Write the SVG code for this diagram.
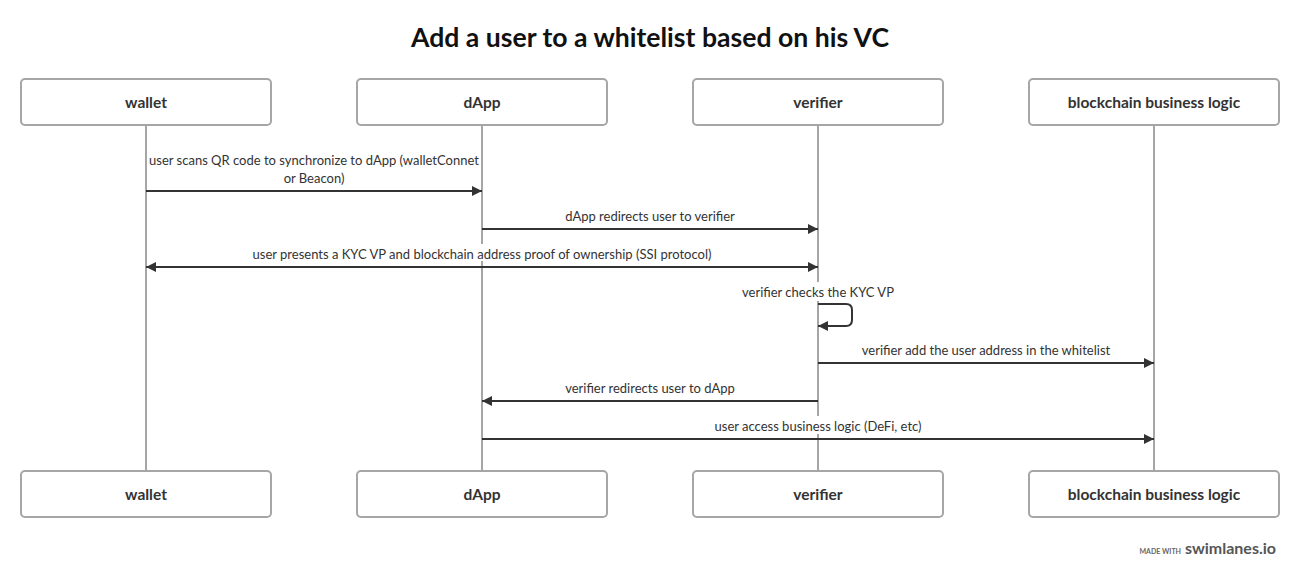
<svg xmlns="http://www.w3.org/2000/svg" width="1300" height="578" viewBox="0 0 1300 578">
<defs>
<style>
.bg{fill:#ffffff}
.box{fill:#ffffff;stroke:#a6a6a6;stroke-width:2}
.life{stroke:#a6a6a6;stroke-width:2}
.msg{stroke:#333333;stroke-width:2;fill:none}
.lbl{font-family:Lato,"Open Sans",sans-serif;font-size:13px;fill:#333333;text-anchor:middle}
.name{font-family:Lato,"Open Sans",sans-serif;font-size:15.5px;font-weight:bold;fill:#333333;text-anchor:middle}
.title{font-family:Lato,"Open Sans",sans-serif;font-size:26.6px;font-weight:bold;fill:#111111;text-anchor:middle}
.lblbg{fill:#ffffff}
</style>
<marker id="arr" viewBox="0 0 10 10" refX="10" refY="5" markerWidth="10" markerHeight="10" markerUnits="userSpaceOnUse" orient="auto-start-reverse">
<path d="M0,0 L10,5 L0,10 z" fill="#333333"/>
</marker>
</defs>
<rect class="bg" x="0" y="0" width="1300" height="578"/>
<text class="title" x="650" y="47">Add a user to a whitelist based on his VC</text>
<g id="lifelines">
<line class="life" x1="146" y1="125" x2="146" y2="471"/>
<line class="life" x1="482" y1="125" x2="482" y2="471"/>
<line class="life" x1="818" y1="125" x2="818" y2="471"/>
<line class="life" x1="1154" y1="125" x2="1154" y2="471"/>
</g>
<g id="node-wallet">
<rect class="box" x="21" y="79" width="250" height="46" rx="4"/>
<text class="name" x="146" y="107.5">wallet</text>
<rect class="box" x="21" y="471" width="250" height="46" rx="4"/>
<text class="name" x="146" y="499.5">wallet</text>
</g>
<g id="node-dapp">
<rect class="box" x="357" y="79" width="250" height="46" rx="4"/>
<text class="name" x="482" y="107.5">dApp</text>
<rect class="box" x="357" y="471" width="250" height="46" rx="4"/>
<text class="name" x="482" y="499.5">dApp</text>
</g>
<g id="node-verifier">
<rect class="box" x="693" y="79" width="250" height="46" rx="4"/>
<text class="name" x="818" y="107.5">verifier</text>
<rect class="box" x="693" y="471" width="250" height="46" rx="4"/>
<text class="name" x="818" y="499.5">verifier</text>
</g>
<g id="node-blockchain">
<rect class="box" x="1029" y="79" width="250" height="46" rx="4"/>
<text class="name" x="1154" y="107.5">blockchain business logic</text>
<rect class="box" x="1029" y="471" width="250" height="46" rx="4"/>
<text class="name" x="1154" y="499.5">blockchain business logic</text>
</g>
<g id="connectors">
<line class="msg" x1="146" y1="191" x2="482" y2="191" marker-end="url(#arr)"/>
<text class="lbl" x="314" y="165">user scans QR code to synchronize to dApp (walletConnet</text>
<text class="lbl" x="314" y="183">or Beacon)</text>
<line class="msg" x1="482" y1="229" x2="818" y2="229" marker-end="url(#arr)"/>
<text class="lbl" x="650" y="221">dApp redirects user to verifier</text>
<line class="msg" x1="146" y1="267" x2="818" y2="267" marker-start="url(#arr)" marker-end="url(#arr)"/>
<rect class="lblbg" x="246" y="244" width="472" height="17"/>
<text class="lbl" x="482" y="259">user presents a KYC VP and blockchain address proof of ownership (SSI protocol)</text>
<rect class="lblbg" x="741" y="282" width="154" height="19"/>
<text class="lbl" x="818" y="297">verifier checks the KYC VP</text>
<path class="msg" d="M818,304 H846 Q852,304 852,310 V320 Q852,326 846,326 H818" marker-end="url(#arr)"/>
<line class="msg" x1="818" y1="363" x2="1154" y2="363" marker-end="url(#arr)"/>
<text class="lbl" x="986" y="355">verifier add the user address in the whitelist</text>
<line class="msg" x1="818" y1="401" x2="482" y2="401" marker-end="url(#arr)"/>
<text class="lbl" x="650" y="393">verifier redirects user to dApp</text>
<line class="msg" x1="482" y1="439" x2="1154" y2="439" marker-end="url(#arr)"/>
<rect class="lblbg" x="710" y="416" width="216" height="18"/>
<text class="lbl" x="818" y="431">user access business logic (DeFi, etc)</text>
</g>
<text x="1181" y="554" font-family="Lato,'Open Sans',sans-serif" font-size="7" font-weight="bold" fill="#666666" text-anchor="end">MADE WITH</text>
<text x="1276" y="554" font-family="Lato,'Open Sans',sans-serif" font-size="16" font-weight="bold" fill="#555555" text-anchor="end">swimlanes.io</text>
</svg>
